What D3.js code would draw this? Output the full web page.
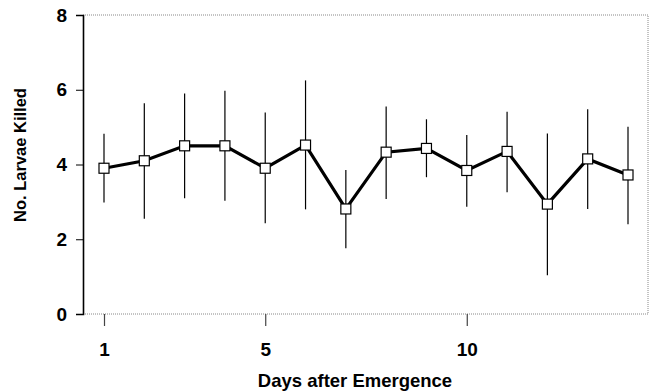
<!DOCTYPE html>
<html>
<head>
<meta charset="utf-8">
<script src="https://cdn.jsdelivr.net/npm/d3@7"></script>
<style>
  body { margin: 0; background: #fff; }
  text { font-family: "Liberation Sans", Arial, sans-serif; font-weight: bold; fill: #000; }
</style>
</head>
<body>
<script>
// data
const days = [1, 2, 3, 4, 5, 6, 7, 8, 9, 10, 11, 12, 13, 14];
const meanKilled = [3.90, 4.10, 4.50, 4.50, 3.90, 4.52, 2.81, 4.33, 4.43, 3.84, 4.35, 2.94, 4.15, 3.72];
const upperBar = [4.82, 5.64, 5.90, 5.97, 5.39, 6.25, 3.85, 5.55, 5.21, 4.79, 5.41, 4.83, 5.48, 5.01];
const lowerBar = [2.98, 2.55, 3.10, 3.03, 2.43, 2.80, 1.76, 3.08, 3.66, 2.87, 3.26, 1.04, 2.81, 2.40];
const xTicks = [1, 5, 10];
const yTicks = [0, 2, 4, 6, 8];

const W = 656, H = 392;
const plotL = 83, plotR = 648, plotT = 15, plotB = 314;

const svg = d3.select("body").append("svg")
  .attr("width", W).attr("height", H);

const x = d3.scaleLinear().domain([1, 14]).range([104, 628]);
const y = d3.scaleLinear().domain([0, 8]).range([plotB, plotT]);

// dotted frame (top, right, bottom)
svg.append("path")
  .attr("d", `M${plotL},${plotT}H${plotR}V${plotB}H${plotL}`)
  .attr("fill", "none").attr("stroke", "#888").attr("stroke-width", 1)
  .attr("stroke-dasharray", "1,1");

// y axis
const gy = svg.append("g").attr("transform", `translate(${plotL},0)`)
  .call(d3.axisLeft(y).tickValues(yTicks).tickSize(7).tickPadding(9).tickFormat(d3.format("d")));
gy.select(".domain").attr("stroke", "#000").attr("stroke-width", 1.6);
gy.selectAll(".tick line").attr("stroke", "#000");
gy.selectAll(".tick text").style("font-size", "19px");

// x axis (ticks only, below the frame)
const gx = svg.append("g").attr("transform", `translate(0,${plotB})`)
  .call(d3.axisBottom(x).tickValues(xTicks).tickSize(12).tickPadding(17).tickFormat(d3.format("d")));
gx.select(".domain").remove();
gx.selectAll(".tick line").attr("stroke", "#444").attr("stroke-width", 1.2);
gx.selectAll(".tick text").style("font-size", "19px");

// axis titles
svg.append("text")
  .attr("x", 355).attr("y", 387)
  .attr("text-anchor", "middle")
  .style("font-size", "18.5px")
  .text("Days after Emergence");

svg.append("text")
  .attr("transform", `translate(26,155) rotate(-90)`)
  .attr("text-anchor", "middle")
  .style("font-size", "16.5px")
  .text("No. Larvae Killed");

// error bars
svg.append("g").selectAll("line")
  .data(days)
  .join("line")
  .attr("x1", d => x(d)).attr("x2", d => x(d))
  .attr("y1", (d, i) => y(upperBar[i]))
  .attr("y2", (d, i) => y(lowerBar[i]))
  .attr("stroke", "#000").attr("stroke-width", 1.2);

// mean line
const line = d3.line().x(d => x(d)).y((d, i) => y(meanKilled[i]));
svg.append("path")
  .datum(days)
  .attr("d", line)
  .attr("fill", "none").attr("stroke", "#000").attr("stroke-width", 3.2)
  .attr("stroke-linejoin", "miter");

// square markers
const sq = 10;
svg.append("g").selectAll("rect")
  .data(days)
  .join("rect")
  .attr("x", d => x(d) - sq / 2)
  .attr("y", (d, i) => y(meanKilled[i]) - sq / 2)
  .attr("width", sq).attr("height", sq)
  .attr("fill", "#fff").attr("stroke", "#000").attr("stroke-width", 1.2);
</script>
</body>
</html>
